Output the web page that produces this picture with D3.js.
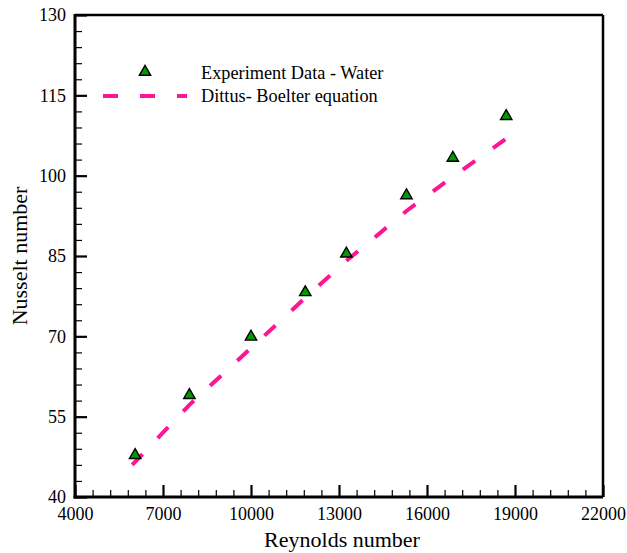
<!DOCTYPE html>
<html>
<head>
<meta charset="utf-8">
<script src="https://cdn.jsdelivr.net/npm/d3@7"></script>
<style>
  body { margin: 0; background: #fff; }
</style>
</head>
<body>
<svg id="chart"></svg>
<script>
// data
const reExp = [6050, 7900, 10000, 11850, 13250, 15300, 16880, 18700];
const nuExp = [48.0, 59.2, 70.1, 78.4, 85.6, 96.5, 103.5, 111.3];
const reDB = [5950, 7900, 10000, 11850, 13250, 15300, 16880, 18850];
const nuDB = [46.0, 57.2, 67.8, 77.2, 84.1, 93.4, 99.8, 107.5];
const xTicks = [4000, 7000, 10000, 13000, 16000, 19000, 22000];
const yTicks = [40, 55, 70, 85, 100, 115, 130];
const legendLabels = ["Experiment Data - Water", "Dittus- Boelter equation"];

const FONT = "'Liberation Serif', 'Times New Roman', serif";

// layout
const W = 627, H = 553;
const margin = {top: 15, right: 24, bottom: 56, left: 75};
const width = W - margin.left - margin.right;
const height = H - margin.top - margin.bottom;

const svg = d3.select('#chart')
    .attr('width', W)
    .attr('height', H)
    .style('font-family', FONT);
const g = svg.append('g')
    .attr('transform', 'translate(' + margin.left + ',' + margin.top + ')');

const x = d3.scaleLinear().domain([4000, 22000]).range([0, width]);
const y = d3.scaleLinear().domain([40, 130]).range([height, 0]);

// minor ticks (inward)
const xMinor = d3.range(4000, 22001, 600).filter(v => xTicks.indexOf(v) < 0);
const yMinor = d3.range(40, 131, 3).filter(v => yTicks.indexOf(v) < 0);

g.append('g')
    .attr('transform', 'translate(0,' + height + ')')
    .call(d3.axisBottom(x).tickValues(xMinor).tickSize(-7).tickFormat(''))
    .call(a => a.select('.domain').remove())
    .selectAll('line').attr('stroke-width', 1.2);
g.append('g')
    .call(d3.axisLeft(y).tickValues(yMinor).tickSize(-7).tickFormat(''))
    .call(a => a.select('.domain').remove())
    .selectAll('line').attr('stroke-width', 1.2);

// major ticks + labels
const xAxis = g.append('g')
    .attr('transform', 'translate(0,' + height + ')')
    .call(d3.axisBottom(x).tickValues(xTicks).tickSize(-12).tickFormat(d3.format('d')));
xAxis.attr('font-family', null);
xAxis.select('.domain').remove();
xAxis.selectAll('line').attr('stroke-width', 2.2);
xAxis.selectAll('text').attr('font-size', 18).attr('dy', null).attr('y', 23)
    .style('font-family', FONT);

const yAxis = g.append('g')
    .call(d3.axisLeft(y).tickValues(yTicks).tickSize(-12).tickFormat(d3.format('d')));
yAxis.attr('font-family', null);
yAxis.select('.domain').remove();
yAxis.selectAll('line').attr('stroke-width', 2.2);
yAxis.selectAll('text').attr('font-size', 18).attr('x', -9).attr('y', 0)
    .style('font-family', FONT);

// frame
g.append('line').attr('x1', 0).attr('x2', width).attr('y1', 0).attr('y2', 0)
    .attr('stroke', '#000').attr('stroke-width', 2.5);
g.append('line').attr('x1', width).attr('x2', width).attr('y1', 0).attr('y2', height)
    .attr('stroke', '#000').attr('stroke-width', 2.5);
g.append('line').attr('x1', 0).attr('x2', 0).attr('y1', -1).attr('y2', height + 1.5)
    .attr('stroke', '#000').attr('stroke-width', 3);
g.append('line').attr('x1', -1.5).attr('x2', width).attr('y1', height).attr('y2', height)
    .attr('stroke', '#000').attr('stroke-width', 3);

// Dittus-Boelter line
const dbData = reDB.map((r, i) => ({re: r, nu: nuDB[i]}));
const line = d3.line().x(d => x(d.re)).y(d => y(d.nu));
g.append('path')
    .datum(dbData)
    .attr('d', line)
    .attr('fill', 'none')
    .attr('stroke', '#ff1493')
    .attr('stroke-width', 4)
    .attr('stroke-dasharray', '15,22');

// experiment markers
const tri = d3.symbol().type(d3.symbolTriangle).size(56);
const expData = reExp.map((r, i) => ({re: r, nu: nuExp[i]}));
g.selectAll('.pt')
    .data(expData)
    .enter()
    .append('path')
    .attr('class', 'pt')
    .attr('d', tri)
    .attr('transform', d => 'translate(' + x(d.re) + ',' + (y(d.nu) + 1) + ')')
    .attr('fill', '#009a00')
    .attr('stroke', '#000')
    .attr('stroke-width', 1.4);

// legend
svg.append('path')
    .attr('d', tri)
    .attr('transform', 'translate(145,72)')
    .attr('fill', '#009a00')
    .attr('stroke', '#000')
    .attr('stroke-width', 1.4);
svg.append('line')
    .attr('x1', 103).attr('x2', 187).attr('y1', 96).attr('y2', 96)
    .attr('stroke', '#ff1493')
    .attr('stroke-width', 4)
    .attr('stroke-dasharray', '15,22');
svg.selectAll('.leg')
    .data(legendLabels)
    .enter()
    .append('text')
    .attr('class', 'leg')
    .attr('x', 201)
    .attr('y', (d, i) => 79 + i * 23)
    .attr('font-size', 18.3)
    .style('font-family', FONT)
    .text(d => d);

// axis titles
svg.append('text')
    .attr('x', margin.left + width / 2 + 3)
    .attr('y', 547)
    .attr('text-anchor', 'middle')
    .attr('font-size', 22)
    .style('font-family', FONT)
    .text('Reynolds number');
svg.append('text')
    .attr('transform', 'translate(27,' + (margin.top + height / 2) + ') rotate(-90)')
    .attr('text-anchor', 'middle')
    .attr('font-size', 22)
    .style('font-family', FONT)
    .text('Nusselt number');
</script>
</body>
</html>
